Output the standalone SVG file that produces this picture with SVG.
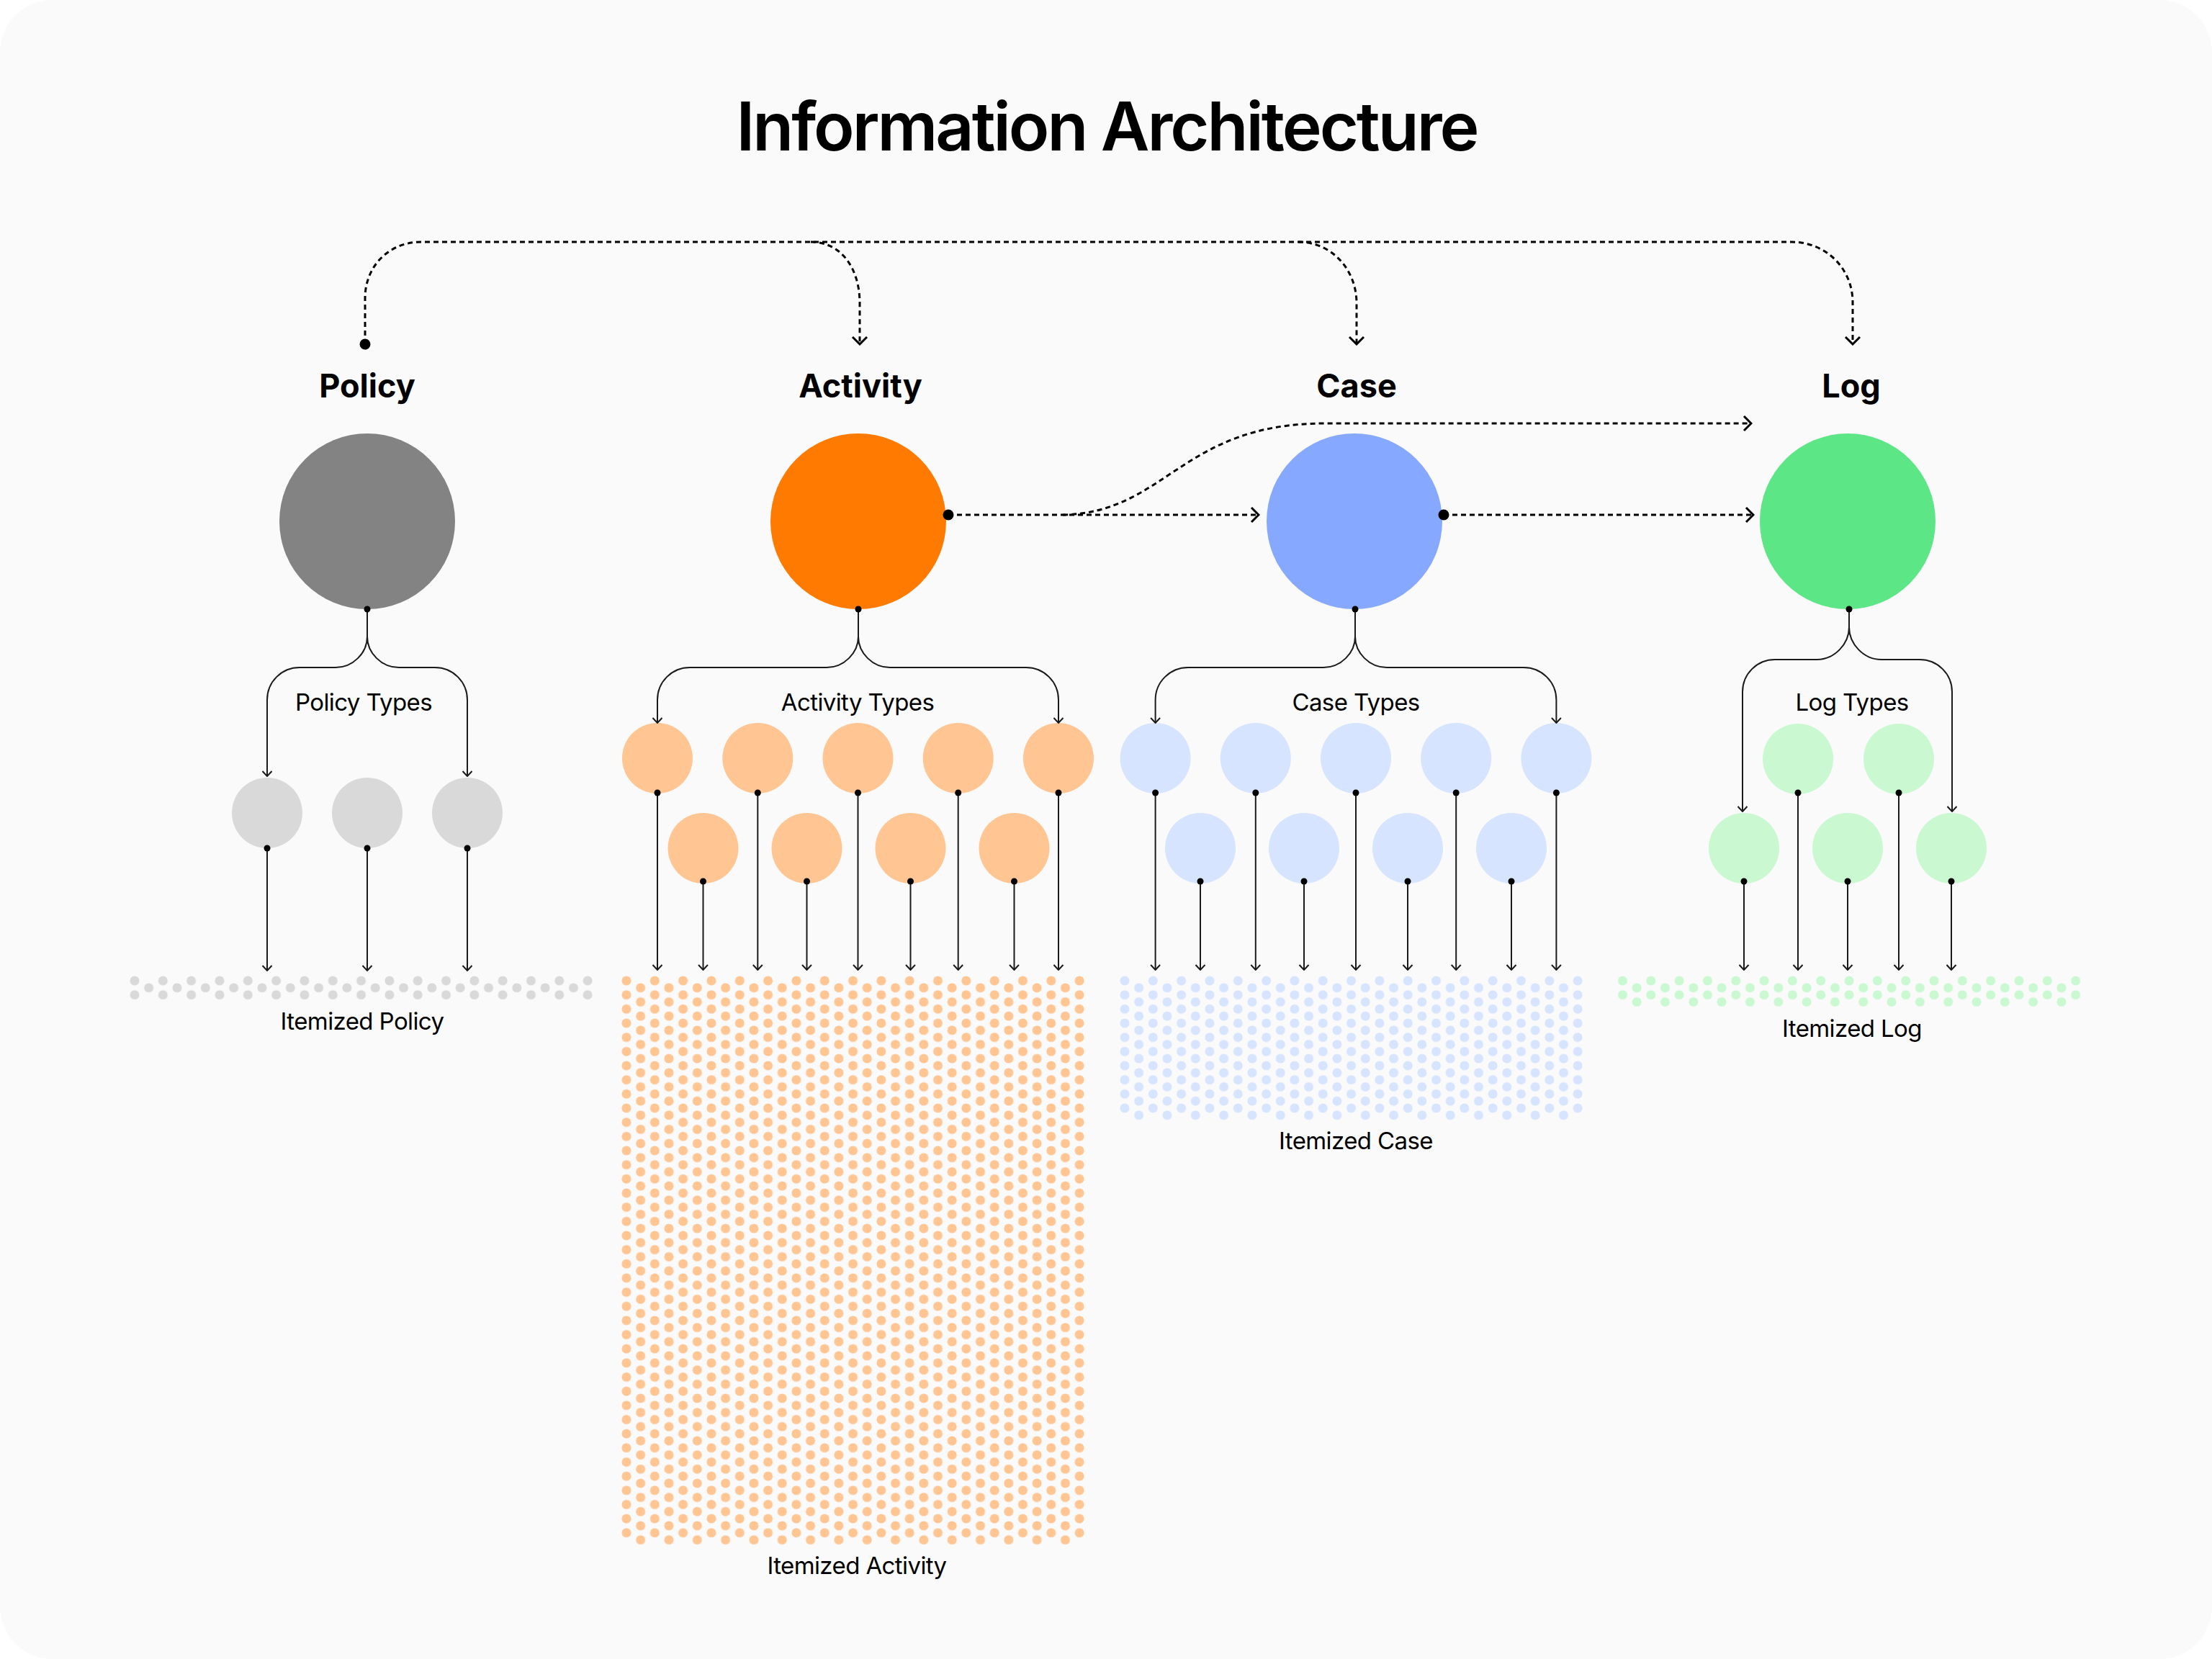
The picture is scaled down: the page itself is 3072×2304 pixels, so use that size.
<svg xmlns="http://www.w3.org/2000/svg" width="3072" height="2304" viewBox="0 0 3072 2304">
<style>
.t{font-family:Inter,"Liberation Sans",sans-serif;fill:#000;text-anchor:middle}
.title{font-size:93px;font-weight:600;letter-spacing:-3px}
.h{font-size:45px;font-weight:700}
.lbl{font-size:33px;font-weight:400;letter-spacing:-0.6px}
.ln{fill:none;stroke:#1a1a1a;stroke-width:2}
.dash{fill:none;stroke:#000;stroke-width:3;stroke-dasharray:7 5}
.dot{fill:#000}
.g0{fill:#838383}.g1{fill:#d9d9d9}
.o0{fill:#ff7a00}.o1{fill:#ffc592}
.b0{fill:#86a9ff}.b1{fill:#d6e4ff}
.e0{fill:#5de686}.e1{fill:#c9f8d1}
</style>
<defs>
<marker id="a" viewBox="-9 -8 10 16" markerWidth="10" markerHeight="16" markerUnits="userSpaceOnUse" refX="0" refY="0" orient="auto"><path d="M-7,-6.5 L0,0 L-7,6.5" fill="none" stroke="#1a1a1a" stroke-width="2"/></marker>
<marker id="ad" viewBox="-12 -12 14 24" markerWidth="14" markerHeight="24" markerUnits="userSpaceOnUse" refX="0" refY="0" orient="auto"><path d="M-10,-10 L0,0 L-10,10" fill="none" stroke="#000" stroke-width="3"/></marker>
<pattern id="pgE" patternUnits="userSpaceOnUse" x="-19.66" y="-9.83" width="39.32" height="19.66"><circle cx="19.66" cy="9.83" r="6.5" fill="#d9d9d9"/></pattern>
<pattern id="pgO" patternUnits="userSpaceOnUse" x="0" y="0" width="39.32" height="19.66"><circle cx="19.66" cy="9.83" r="6.5" fill="#d9d9d9"/></pattern>
<pattern id="poE" patternUnits="userSpaceOnUse" x="-19.66" y="-9.83" width="39.32" height="19.66"><circle cx="19.66" cy="9.83" r="6.5" fill="#ffc592"/></pattern>
<pattern id="poO" patternUnits="userSpaceOnUse" x="0" y="0" width="39.32" height="19.66"><circle cx="19.66" cy="9.83" r="6.5" fill="#ffc592"/></pattern>
<pattern id="pbE" patternUnits="userSpaceOnUse" x="-19.66" y="-9.83" width="39.32" height="19.66"><circle cx="19.66" cy="9.83" r="6.5" fill="#d6e4ff"/></pattern>
<pattern id="pbO" patternUnits="userSpaceOnUse" x="0" y="0" width="39.32" height="19.66"><circle cx="19.66" cy="9.83" r="6.5" fill="#d6e4ff"/></pattern>
<pattern id="peE" patternUnits="userSpaceOnUse" x="-19.66" y="-9.83" width="39.32" height="19.66"><circle cx="19.66" cy="9.83" r="6.5" fill="#c9f8d1"/></pattern>
<pattern id="peO" patternUnits="userSpaceOnUse" x="0" y="0" width="39.32" height="19.66"><circle cx="19.66" cy="9.83" r="6.5" fill="#c9f8d1"/></pattern>
</defs>
<rect x="0" y="0" width="3072" height="2304" fill="#ffffff"/>
<rect x="0" y="0" width="3072" height="2304" rx="72" ry="72" fill="#fafafa"/>
<text class="t title" x="1537" y="209">Information Architecture</text>

<g id="policy">
<text class="t h" x="510" y="552">Policy</text>
<circle class="g0" cx="510" cy="724" r="122"/>
<text class="t lbl" x="505" y="987">Policy Types</text>
<circle class="g1" cx="371" cy="1129" r="49"/>
<circle class="g1" cx="510" cy="1129" r="49"/>
<circle class="g1" cx="649" cy="1129" r="49"/>
<g transform="translate(187,1362)">
<rect x="-10" y="-7" width="649" height="33.66" fill="url(#pgE)"/>
<rect x="-10" y="2.83" width="649" height="14" fill="url(#pgO)"/>
</g>
<text class="t lbl" x="503" y="1430">Itemized Policy</text>
</g>

<g id="activity">
<text class="t h" x="1195" y="552">Activity</text>
<circle class="o0" cx="1192" cy="724" r="122"/>
<text class="t lbl" x="1191" y="987">Activity Types</text>
<circle class="o1" cx="913" cy="1053" r="49"/>
<circle class="o1" cx="1052.3" cy="1053" r="49"/>
<circle class="o1" cx="1191.5" cy="1053" r="49"/>
<circle class="o1" cx="1330.7" cy="1053" r="49"/>
<circle class="o1" cx="1470" cy="1053" r="49"/>
<circle class="o1" cx="976.5" cy="1178" r="49"/>
<circle class="o1" cx="1120.5" cy="1178" r="49"/>
<circle class="o1" cx="1264.5" cy="1178" r="49"/>
<circle class="o1" cx="1408.5" cy="1178" r="49"/>
<g transform="translate(870,1362)">
<rect x="-10" y="-7" width="649" height="780.74" fill="url(#poE)"/>
<rect x="-10" y="2.83" width="649" height="780.74" fill="url(#poO)"/>
</g>
<text class="t lbl" x="1190" y="2186">Itemized Activity</text>
</g>

<g id="case">
<text class="t h" x="1884" y="552">Case</text>
<circle class="b0" cx="1881" cy="724" r="122"/>
<text class="t lbl" x="1883" y="987">Case Types</text>
<circle class="b1" cx="1604.6" cy="1053" r="49"/>
<circle class="b1" cx="1743.8" cy="1053" r="49"/>
<circle class="b1" cx="1883" cy="1053" r="49"/>
<circle class="b1" cx="2022.2" cy="1053" r="49"/>
<circle class="b1" cx="2161.4" cy="1053" r="49"/>
<circle class="b1" cx="1667" cy="1178" r="49"/>
<circle class="b1" cx="1811" cy="1178" r="49"/>
<circle class="b1" cx="1955" cy="1178" r="49"/>
<circle class="b1" cx="2099" cy="1178" r="49"/>
<g transform="translate(1562,1362)">
<rect x="-10" y="-7" width="649" height="190.94" fill="url(#pbE)"/>
<rect x="-10" y="2.83" width="649" height="190.94" fill="url(#pbO)"/>
</g>
<text class="t lbl" x="1883" y="1596">Itemized Case</text>
</g>

<g id="log">
<text class="t h" x="2571" y="552">Log</text>
<circle class="e0" cx="2566" cy="724" r="122"/>
<text class="t lbl" x="2572" y="987">Log Types</text>
<circle class="e1" cx="2497" cy="1054" r="49"/>
<circle class="e1" cx="2637" cy="1054" r="49"/>
<circle class="e1" cx="2422" cy="1178" r="49"/>
<circle class="e1" cx="2566" cy="1178" r="49"/>
<circle class="e1" cx="2710" cy="1178" r="49"/>
<g transform="translate(2253.5,1362)">
<rect x="-10" y="-7" width="649" height="33.66" fill="url(#peE)"/>
<rect x="-10" y="2.83" width="649" height="33.66" fill="url(#peO)"/>
</g>
<text class="t lbl" x="2572" y="1440">Itemized Log</text>
</g>

<g id="connectors">
<path class="dash" d="M507,478 V414 C507,370 540,336 585,336 H2488 C2535,336 2573,372 2573,420 V478" marker-end="url(#ad)"/>
<path class="dash" d="M1126,336 C1170,336 1194,375 1194,421 V478" marker-end="url(#ad)"/>
<path class="dash" d="M1803,336 C1850,336 1884,375 1884,421 V478" marker-end="url(#ad)"/>
<circle class="dot" cx="507" cy="478" r="7.5"/>
<path class="dash" d="M1317,715 H1748" marker-end="url(#ad)"/>
<path class="dash" d="M1476,715 C1620,712 1640,588 1840,588 H2432" marker-end="url(#ad)"/>
<path class="dash" d="M2005,715 H2435" marker-end="url(#ad)"/>
<circle class="dot" cx="1317" cy="715" r="7.5"/>
<circle class="dot" cx="2005" cy="715" r="7.5"/>

<path class="ln" d="M510,846 V884 C510,907 490,927 466,927 H416 C391,927 371,947 371,972 V1078" marker-end="url(#a)"/>
<path class="ln" d="M510,884 C510,907 530,927 554,927 H604 C629,927 649,947 649,972 V1078" marker-end="url(#a)"/>
<circle class="dot" cx="510" cy="846" r="4.5"/>
<path class="ln" d="M371,1178 V1348" marker-end="url(#a)"/>
<path class="ln" d="M510,1178 V1348" marker-end="url(#a)"/>
<path class="ln" d="M649,1178 V1348" marker-end="url(#a)"/>
<circle class="dot" cx="371" cy="1178" r="4.5"/>
<circle class="dot" cx="510" cy="1178" r="4.5"/>
<circle class="dot" cx="649" cy="1178" r="4.5"/>

<path class="ln" d="M1192,846 V884 C1192,907 1172,927 1148,927 H958 C933,927 913,947 913,972 V1004" marker-end="url(#a)"/>
<path class="ln" d="M1192,884 C1192,907 1212,927 1236,927 H1425 C1450,927 1470,947 1470,972 V1004" marker-end="url(#a)"/>
<circle class="dot" cx="1192" cy="846" r="4.5"/>
<path class="ln" d="M913,1101 V1347" marker-end="url(#a)"/>
<path class="ln" d="M1052.3,1101 V1347" marker-end="url(#a)"/>
<path class="ln" d="M1191.5,1101 V1347" marker-end="url(#a)"/>
<path class="ln" d="M1330.7,1101 V1347" marker-end="url(#a)"/>
<path class="ln" d="M1470,1101 V1347" marker-end="url(#a)"/>
<path class="ln" d="M976.5,1224 V1347" marker-end="url(#a)"/>
<path class="ln" d="M1120.5,1224 V1347" marker-end="url(#a)"/>
<path class="ln" d="M1264.5,1224 V1347" marker-end="url(#a)"/>
<path class="ln" d="M1408.5,1224 V1347" marker-end="url(#a)"/>
<circle class="dot" cx="913" cy="1101" r="4.5"/>
<circle class="dot" cx="1052.3" cy="1101" r="4.5"/>
<circle class="dot" cx="1191.5" cy="1101" r="4.5"/>
<circle class="dot" cx="1330.7" cy="1101" r="4.5"/>
<circle class="dot" cx="1470" cy="1101" r="4.5"/>
<circle class="dot" cx="976.5" cy="1224" r="4.5"/>
<circle class="dot" cx="1120.5" cy="1224" r="4.5"/>
<circle class="dot" cx="1264.5" cy="1224" r="4.5"/>
<circle class="dot" cx="1408.5" cy="1224" r="4.5"/>

<path class="ln" d="M1882,846 V884 C1882,907 1862,927 1838,927 H1650 C1625,927 1604.6,947 1604.6,972 V1004" marker-end="url(#a)"/>
<path class="ln" d="M1882,884 C1882,907 1902,927 1926,927 H2116 C2141,927 2161.4,947 2161.4,972 V1004" marker-end="url(#a)"/>
<circle class="dot" cx="1882" cy="846" r="4.5"/>
<path class="ln" d="M1604.6,1101 V1347" marker-end="url(#a)"/>
<path class="ln" d="M1743.8,1101 V1347" marker-end="url(#a)"/>
<path class="ln" d="M1883,1101 V1347" marker-end="url(#a)"/>
<path class="ln" d="M2022.2,1101 V1347" marker-end="url(#a)"/>
<path class="ln" d="M2161.4,1101 V1347" marker-end="url(#a)"/>
<path class="ln" d="M1667,1224 V1347" marker-end="url(#a)"/>
<path class="ln" d="M1811,1224 V1347" marker-end="url(#a)"/>
<path class="ln" d="M1955,1224 V1347" marker-end="url(#a)"/>
<path class="ln" d="M2099,1224 V1347" marker-end="url(#a)"/>
<circle class="dot" cx="1604.6" cy="1101" r="4.5"/>
<circle class="dot" cx="1743.8" cy="1101" r="4.5"/>
<circle class="dot" cx="1883" cy="1101" r="4.5"/>
<circle class="dot" cx="2022.2" cy="1101" r="4.5"/>
<circle class="dot" cx="2161.4" cy="1101" r="4.5"/>
<circle class="dot" cx="1667" cy="1224" r="4.5"/>
<circle class="dot" cx="1811" cy="1224" r="4.5"/>
<circle class="dot" cx="1955" cy="1224" r="4.5"/>
<circle class="dot" cx="2099" cy="1224" r="4.5"/>

<path class="ln" d="M2568,846 V871 C2568,894 2548,916 2523,916 H2465 C2440,916 2420,936 2420,961 V1127" marker-end="url(#a)"/>
<path class="ln" d="M2568,871 C2568,894 2588,916 2613,916 H2666 C2691,916 2711,936 2711,961 V1127" marker-end="url(#a)"/>
<circle class="dot" cx="2568" cy="846" r="4.5"/>
<path class="ln" d="M2497,1101 V1347" marker-end="url(#a)"/>
<path class="ln" d="M2637,1101 V1347" marker-end="url(#a)"/>
<path class="ln" d="M2422,1224 V1347" marker-end="url(#a)"/>
<path class="ln" d="M2566,1224 V1347" marker-end="url(#a)"/>
<path class="ln" d="M2710,1224 V1347" marker-end="url(#a)"/>
<circle class="dot" cx="2497" cy="1101" r="4.5"/>
<circle class="dot" cx="2637" cy="1101" r="4.5"/>
<circle class="dot" cx="2422" cy="1224" r="4.5"/>
<circle class="dot" cx="2566" cy="1224" r="4.5"/>
<circle class="dot" cx="2710" cy="1224" r="4.5"/>
</g>
</svg>
